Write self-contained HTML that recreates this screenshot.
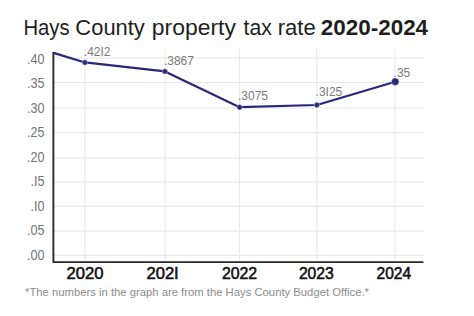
<!DOCTYPE html>
<html><head><meta charset="utf-8">
<style>
html,body{margin:0;padding:0;background:#fff;width:474px;height:316px;overflow:hidden}
svg{display:block}
text{font-family:"Liberation Sans",sans-serif}
</style></head>
<body>
<svg width="474" height="316" viewBox="0 0 474 316">
<rect width="474" height="316" fill="#fff"/>
<!-- title -->
<g font-size="21.5" fill="#1e1e1e">
<text x="23.40" y="34.7" textLength="46.25" lengthAdjust="spacingAndGlyphs">Hays</text>
<text x="75.38" y="34.7" textLength="69.44" lengthAdjust="spacingAndGlyphs">County</text>
<text x="151.81" y="34.7" textLength="84.07" lengthAdjust="spacingAndGlyphs">property</text>
<text x="243.50" y="34.7" textLength="28.27" lengthAdjust="spacingAndGlyphs">tax</text>
<text x="277.66" y="34.7" textLength="38.01" lengthAdjust="spacingAndGlyphs">rate</text>
<text x="320.87" y="34.7" font-weight="bold" textLength="107.23" lengthAdjust="spacingAndGlyphs">2020-2024</text>
</g>
<!-- grid horizontal -->
<g stroke="#e8e8e8" stroke-width="1.1">
<line x1="54" x2="424" y1="58" y2="58"/>
<line x1="54" x2="424" y1="82.5" y2="82.5"/>
<line x1="54" x2="424" y1="108" y2="108"/>
<line x1="54" x2="424" y1="132.8" y2="132.8"/>
<line x1="54" x2="424" y1="158" y2="158"/>
<line x1="54" x2="424" y1="182" y2="182"/>
<line x1="54" x2="424" y1="206.4" y2="206.4"/>
<line x1="54" x2="424" y1="231.1" y2="231.1"/>
<line x1="54" x2="424" y1="255.4" y2="255.4"/>
</g>
<g stroke="#e8e8e8" stroke-width="1.1">
<line x1="84.9" x2="84.9" y1="49" y2="262"/>
<line x1="165.1" x2="165.1" y1="49" y2="262"/>
<line x1="239.5" x2="239.5" y1="49" y2="262"/>
<line x1="316.8" x2="316.8" y1="49" y2="262"/>
<line x1="395" x2="395" y1="49" y2="262"/>
</g>
<!-- y labels -->
<g font-size="14.3" fill="#747474" text-anchor="end" transform="translate(44.4,0) scale(0.88,1)">
<text x="0" y="63.8">.40</text>
<text x="0" y="88.3">.35</text>
<text x="0" y="112.9">.30</text>
<text x="0" y="137.4">.25</text>
<text x="0" y="162.0">.20</text>
<text x="0" y="186.4">.I5</text>
<text x="0" y="211.0">.I0</text>
<text x="0" y="235.5">.05</text>
<text x="0" y="260.0">.00</text>
</g>
<!-- data line -->
<polyline points="53.6,52.9 84.95,62.45 164.95,71.4 239.6,107.2 316.85,105 395.2,81.7" fill="none" stroke="#29277a" stroke-width="2.2" stroke-linejoin="round"/>
<g fill="#2c2a80" stroke="rgba(255,255,255,0.55)" stroke-width="0.7">
<circle cx="84.95" cy="62.45" r="2.7"/>
<circle cx="164.95" cy="71.4" r="2.7"/>
<circle cx="239.6" cy="107.2" r="2.7"/>
<circle cx="316.85" cy="105" r="2.7"/>
<circle cx="395.2" cy="81.7" r="3.8"/>
</g>
<!-- axes -->
<path d="M53.4 52 V262.1 H423.4" fill="none" stroke="#2a2a2a" stroke-width="1.9"/>
<!-- data labels -->
<g font-size="12" fill="#7a7a7a">
<text x="83.8" y="55.7">.42I2</text>
<text x="163.9" y="64.8">.3867</text>
<text x="238" y="99.8">.3075</text>
<text x="315.6" y="95.5">.3I25</text>
<text x="393.6" y="76.8">.35</text>
</g>
<!-- x labels -->
<g font-size="15.9" fill="#111" stroke="#111" stroke-width="0.55">
<text x="66.44" y="279" textLength="36.98" lengthAdjust="spacingAndGlyphs">2020</text>
<text x="146.44" y="279" textLength="32.30" lengthAdjust="spacingAndGlyphs">202I</text>
<text x="221.88" y="279" textLength="35.32" lengthAdjust="spacingAndGlyphs">2022</text>
<text x="298.89" y="279" textLength="34.90" lengthAdjust="spacingAndGlyphs">2023</text>
<text x="376.59" y="279" textLength="34.49" lengthAdjust="spacingAndGlyphs">2024</text>
</g>
<!-- footnote -->
<text x="25" y="296" font-size="10.6" fill="#8c8c8c" textLength="344" lengthAdjust="spacingAndGlyphs">*The numbers in the graph are from the Hays County Budget Office.*</text>
</svg>
</body></html>
